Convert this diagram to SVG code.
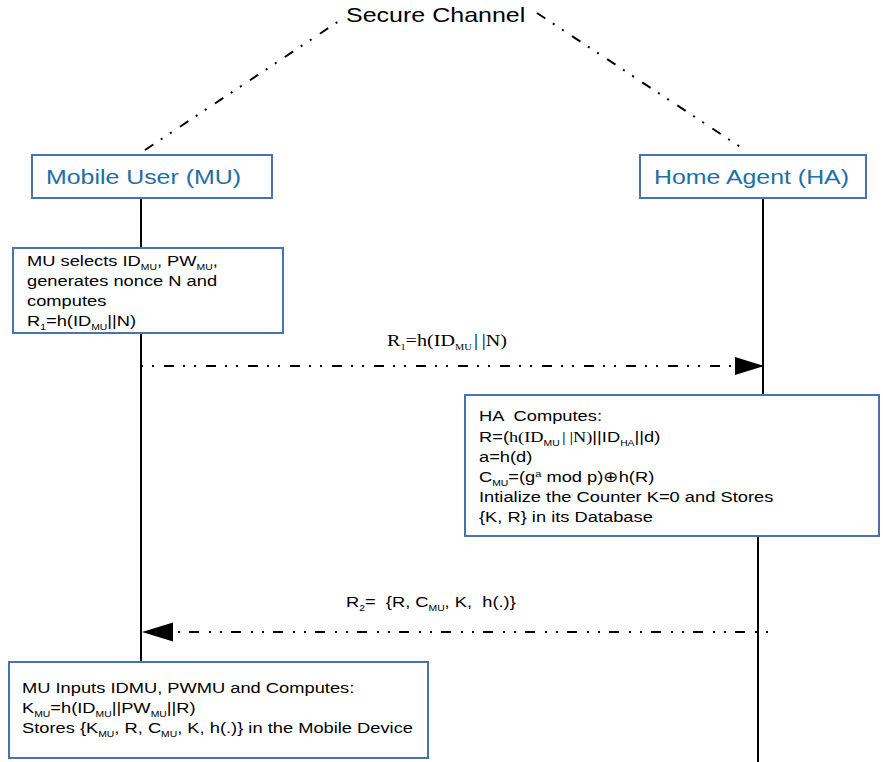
<svg xmlns="http://www.w3.org/2000/svg" width="883" height="762" viewBox="0 0 883 762">
  <defs>
    <style>
      .box { fill: #ffffff; stroke: #4a72b0; stroke-width: 2; }
      .life { stroke: #000000; stroke-width: 2; fill: none; }
      .msg { stroke: #000000; stroke-width: 2; fill: none; stroke-dasharray: 2 9 2 10 10 9; }
      .chan { stroke: #000000; stroke-width: 2; fill: none; stroke-dasharray: 10 9 2 9 2 10; }
      text { font-family: "Liberation Sans", Arial, sans-serif; fill: #000000; }
      .body { font-size: 15px; }
      .head { font-size: 20.4px; fill: #1d6fa5; }
      .title { font-size: 20.5px; }
      .serif { font-family: "Liberation Serif", "Times New Roman", serif; }
      .lbl { font-size: 16.5px; }
      .sub { font-size: 8.5px; }
      .sup { font-size: 9px; }
    </style>
    <marker id="headR" markerUnits="userSpaceOnUse" markerWidth="30" markerHeight="20" refX="29" refY="9" orient="auto">
      <path d="M0,0 L29,9 L0,18 z" fill="#000000"/>
    </marker>
    <marker id="headL" markerUnits="userSpaceOnUse" markerWidth="32" markerHeight="20" refX="31" refY="9.5" orient="auto">
      <path d="M0,0 L31,9.5 L0,19 z" fill="#000000"/>
    </marker>
  </defs>

  <!-- lifelines and messages -->
  <g id="connectors">
    <path class="chan" d="M145,150 L345,17"/>
    <path class="chan" d="M537,13 L745,150"/>
    <path class="life" d="M141,198 V248 M141,333 V662"/>
    <path class="life" d="M763,198 V395 M758,536 V762"/>
    <path class="msg" d="M141,366 H764" marker-end="url(#headR)"/>
    <path class="msg" d="M768,632 H142" marker-end="url(#headL)"/>
    <text class="serif lbl" transform="translate(387 346) scale(1.22 1)">R<tspan class="sub" dy="4">1</tspan><tspan dy="-4">=h(ID</tspan><tspan class="sub" dy="4">MU</tspan><tspan dy="-4" dx="2">|</tspan><tspan dx="3">|N)</tspan></text>
    <text class="body" transform="translate(346 607) scale(1.22 1)" xml:space="preserve">R<tspan class="sub" dy="4">2</tspan><tspan dy="-4">=  {R, C</tspan><tspan class="sub" dy="4">MU</tspan><tspan dy="-4">, K,  h(.)}</tspan></text>
  </g>

  <g id="secure-channel">
    <text class="title" transform="translate(346 22) scale(1.22 1)">Secure Channel</text>
  </g>

  <g id="mobile-user">
    <rect class="box" x="32" y="155" width="240" height="43"/>
    <text class="head" transform="translate(46 184) scale(1.22 1)">Mobile User (MU)</text>
  </g>

  <g id="home-agent">
    <rect class="box" x="640" y="155" width="226" height="43"/>
    <text class="head" transform="translate(654 184) scale(1.22 1)">Home Agent (HA)</text>
  </g>

  <g id="mu-registration">
    <rect class="box" x="13" y="248" width="270" height="85"/>
    <text class="body" transform="translate(27 266) scale(1.22 1)">MU selects ID<tspan class="sub" dy="4">MU</tspan><tspan dy="-4">, PW</tspan><tspan class="sub" dy="4">MU</tspan><tspan dy="-4">,</tspan></text>
    <text class="body" transform="translate(27 286) scale(1.22 1)">generates nonce N and</text>
    <text class="body" transform="translate(27 306) scale(1.22 1)">computes</text>
    <text class="body" transform="translate(27 326) scale(1.22 1)">R<tspan class="sub" dy="4">1</tspan><tspan dy="-4">=h(ID</tspan><tspan class="sub" dy="4">MU</tspan><tspan dy="-4">||N)</tspan></text>
  </g>

  <g id="ha-computes">
    <rect class="box" x="465" y="395" width="414" height="141"/>
    <text class="body" transform="translate(479 421) scale(1.22 1)" xml:space="preserve">HA  Computes:</text>
    <text class="body" transform="translate(479 442) scale(1.22 1)">R=(<tspan class="serif">h(ID</tspan><tspan class="sub" dy="4">MU</tspan><tspan class="serif" dy="-4" dx="2">|</tspan><tspan class="serif" dx="3">|N)</tspan>||ID<tspan class="sub" dy="4">HA</tspan><tspan dy="-4">||d)</tspan></text>
    <text class="body" transform="translate(479 462) scale(1.22 1)">a=h(d)</text>
    <text class="body" transform="translate(479 482) scale(1.22 1)" xml:space="preserve">C<tspan class="sub" dy="4">MU</tspan><tspan dy="-4">=(g</tspan><tspan class="sup" dy="-5">a</tspan><tspan dy="5"> mod p)⊕h(R)</tspan></text>
    <text class="body" transform="translate(479 502) scale(1.22 1)">Intialize the Counter K=0 and Stores</text>
    <text class="body" transform="translate(479 522) scale(1.22 1)">{K, R} in its Database</text>
  </g>

  <g id="mu-stores">
    <rect class="box" x="9" y="662" width="419" height="96"/>
    <text class="body" transform="translate(22 693) scale(1.22 1)">MU Inputs IDMU, PWMU and Computes:</text>
    <text class="body" transform="translate(22 713) scale(1.22 1)">K<tspan class="sub" dy="4">MU</tspan><tspan dy="-4">=h(ID</tspan><tspan class="sub" dy="4">MU</tspan><tspan dy="-4">||PW</tspan><tspan class="sub" dy="4">MU</tspan><tspan dy="-4">||R)</tspan></text>
    <text class="body" transform="translate(22 733) scale(1.22 1)">Stores {K<tspan class="sub" dy="4">MU</tspan><tspan dy="-4">, R, C</tspan><tspan class="sub" dy="4">MU</tspan><tspan dy="-4">, K, h(.)} in the Mobile Device</tspan></text>
  </g>
</svg>
